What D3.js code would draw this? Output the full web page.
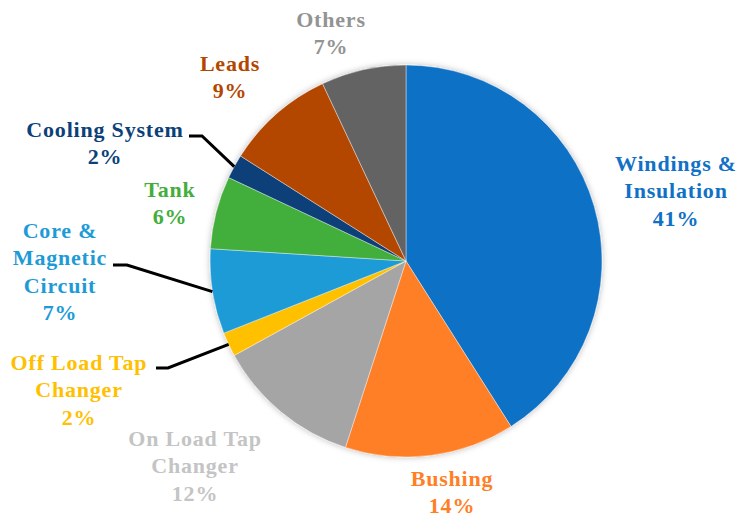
<!DOCTYPE html>
<html>
<head>
<meta charset="utf-8">
<script src="https://cdn.jsdelivr.net/npm/d3@7"></script>
<style>
  html, body { margin: 0; padding: 0; background: #fff; }
  svg { display: block; }
  .lbl { font-family: "Liberation Serif", "Times New Roman", Lato, sans-serif; font-weight: bold; }
</style>
</head>
<body>
<div id="chart"></div>
<script>
// data
const categories = ["Windings & Insulation", "Bushing", "On Load Tap Changer", "Off Load Tap Changer",
  "Core & Magnetic Circuit", "Tank", "Cooling System", "Leads", "Others"];
const values = [41, 14, 12, 2, 7, 6, 2, 9, 7];
const labelLines = [
  ["Windings &", "Insulation"],
  ["Bushing"],
  ["On Load Tap", "Changer"],
  ["Off Load Tap", "Changer"],
  ["Core &", "Magnetic", "Circuit"],
  ["Tank"],
  ["Cooling System"],
  ["Leads"],
  ["Others"]
];

const sliceColors = ["#1171C5", "#FF7F27", "#A5A5A5", "#FFC000", "#1E9BD7", "#43AE3B", "#0B4178", "#B44700", "#646464"];
const textColors  = ["#1171C5", "#FF7F27", "#C4C4C4", "#FFC000", "#1E9BD7", "#43AE3B", "#0B4178", "#B44700", "#939393"];

// label layout: centre x, first line y (middle), and optional leader (start, bend)
const labelPos = [
  { x: 676, y: 163 },
  { x: 452, y: 478 },
  { x: 195, y: 438 },
  { x: 79,  y: 362, leader: [[156, 368], [168, 368]] },
  { x: 60,  y: 230, leader: [[113, 265], [127, 265]] },
  { x: 170, y: 189 },
  { x: 105, y: 129, leader: [[189, 136], [202, 136]] },
  { x: 230, y: 63 },
  { x: 331, y: 19 }
];

const width = 746, height = 522;
const cx = 406, cy = 261, radius = 196;
const lineH = 27.5;

const svg = d3.select("#chart").append("svg")
  .attr("width", width)
  .attr("height", height);

const defs = svg.append("defs");
const shadow = defs.append("filter").attr("id", "shadow")
  .attr("x", "-20%").attr("y", "-20%").attr("width", "140%").attr("height", "140%");
shadow.append("feDropShadow")
  .attr("dx", 0).attr("dy", 0)
  .attr("stdDeviation", 3)
  .attr("flood-color", "#000")
  .attr("flood-opacity", 0.28);

const pie = d3.pie().sort(null).value(d => d)(values);
const arc = d3.arc().innerRadius(0).outerRadius(radius);

const g = svg.append("g").attr("transform", `translate(${cx},${cy})`);

g.append("g").attr("filter", "url(#shadow)")
  .selectAll("path")
  .data(pie)
  .join("path")
  .attr("d", arc)
  .attr("fill", (d, i) => sliceColors[i])
  .attr("stroke", "#fff")
  .attr("stroke-width", 0.4);

// leader lines, ending on the rim at the middle of the slice
pie.forEach((d, i) => {
  const lp = labelPos[i];
  if (!lp.leader) return;
  const mid = (d.startAngle + d.endAngle) / 2;
  const end = [cx + radius * Math.sin(mid), cy - radius * Math.cos(mid)];
  const pts = lp.leader.concat([end]);
  svg.append("path")
    .attr("d", d3.line()(pts))
    .attr("fill", "none")
    .attr("stroke", "#000")
    .attr("stroke-width", 3);
});

// labels
const total = d3.sum(values);
labelPos.forEach((lp, i) => {
  const lines = labelLines[i].concat([Math.round(values[i] / total * 100) + "%"]);
  const t = svg.append("text")
    .attr("class", "lbl")
    .attr("text-anchor", "middle")
    .style("font-size", "22px")
    .style("letter-spacing", "0.8px")
    .attr("fill", textColors[i]);
  lines.forEach((s, k) => {
    t.append("tspan")
      .attr("x", lp.x)
      .attr("y", lp.y + k * lineH)
      .attr("dy", "0.35em")
      .text(s);
  });
});
</script>
</body>
</html>
